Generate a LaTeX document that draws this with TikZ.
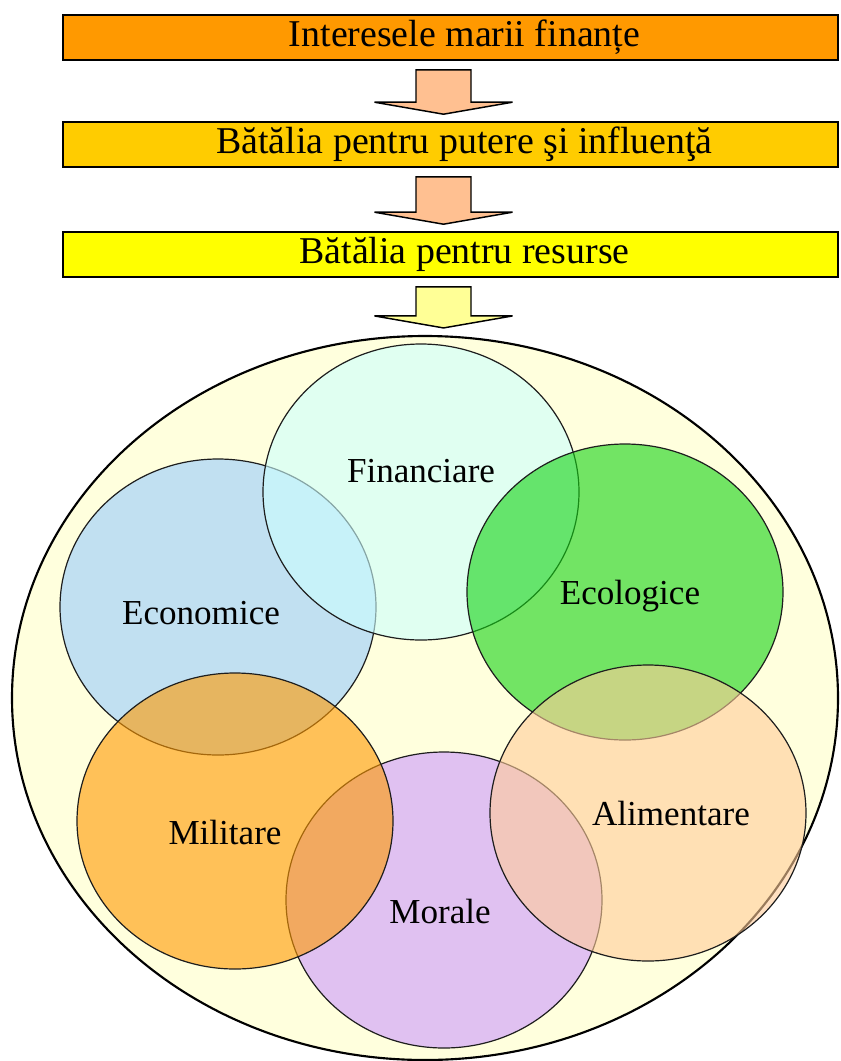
\documentclass[tikz,border=0pt]{standalone}
\usepackage{fontspec}
\setmainfont{Liberation Serif}
\usetikzlibrary{calc,shapes.geometric}

\newcommand{\bartext}{\fontsize{28.4}{34}\selectfont}
\newcommand{\areatext}{\fontsize{26.3}{32}\selectfont}

% block arrow from the bottom of one node down to the top of the next
\newcommand{\blockdown}[3]{%
  \coordinate (#1-#2) at (#1.south |- #2.north);
  \draw [blockarrow, fill=#3] ($(#1.south)+(-34.5,9)$) -- ($(#1.south)+(20.5,9)$) -- ($(#1-#2)+(20.5,-19)$) -- ($(#1-#2)+(62,-19)$) -- ($(#1-#2)+(-7,-7)$) -- ($(#1-#2)+(-76,-19)$) -- ($(#1-#2)+(-34.5,-19)$) -- cycle ;}

\tikzset{every picture/.style={line width=0.75pt}}
\tikzset{
  bar/.style={draw, line width=1.2, minimum width=581.25pt, minimum height=33.75pt, inner sep=0pt,
    label={[font=\bartext, xshift=10.5pt]center:#1}},
  blockarrow/.style={draw, line width=1.1, line join=miter},
  area/.style={ellipse, draw={rgb, 255:red, 30; green, 30; blue, 30 }, line width=0.9, fill opacity=0.6,
    minimum width=237pt, minimum height=222pt, inner sep=0pt},
  areaname/.style={anchor=base, inner sep=0pt, font=\areatext}
}

\begin{document}
\begin{tikzpicture}[x=0.75pt,y=0.75pt,yscale=-1,xscale=1]
\useasboundingbox (0,0) rectangle (840,1061);

% Bars
\node [bar={Interesele marii finanțe}, fill={rgb, 255:red, 255; green, 153; blue, 0 }] (fin) at (450.5,37.5) {};
\node [bar={Bătălia pentru putere şi influenţă}, fill={rgb, 255:red, 255; green, 204; blue, 0 }] (put) at (450.5,144.5) {};
\node [bar={Bătălia pentru resurse}, fill={rgb, 255:red, 255; green, 255; blue, 0 }] (res) at (450.5,254.5) {};

%Shape: Ellipse
\node [ellipse, draw, line width=1.6, inner sep=0pt, minimum width=619.5pt, minimum height=543pt,
  fill={rgb, 255:red, 255; green, 255; blue, 221 }] (tot) at (425,698) {};

% Arrows
\blockdown{fin}{put}{{rgb, 255:red, 255; green, 192; blue, 145 }}
\blockdown{put}{res}{{rgb, 255:red, 255; green, 192; blue, 145 }}
\blockdown{res}{tot}{{rgb, 255:red, 255; green, 255; blue, 150 }}

%Shape: Ellipses
\node [area, fill={rgb, 255:red, 153; green, 204; blue, 255 }] (eco) at (218,607) {};
\node [area, fill={rgb, 255:red, 204; green, 255; blue, 255 }] (fnc) at (421,492) {};
\node [area, fill={rgb, 255:red, 20; green, 210; blue, 20 }] (ecl) at (625,592) {};
\node [area, fill={rgb, 255:red, 204; green, 153; blue, 255 }] (mor) at (444,900) {};
\node [area, fill={rgb, 255:red, 255; green, 153; blue, 0 }] (mil) at (235,821) {};
\node [area, fill={rgb, 255:red, 255; green, 204; blue, 153 }] (ali) at (648,813) {};

% Text Node
\node [areaname] (fnct) at (421,482) {Financiare};
\node [areaname] (ecot) at (201,624) {Economice};
\node [areaname] (eclt) at (630,604) {Ecologice};
\node [areaname] (milt) at (225,844) {Militare};
\node [areaname] (alit) at (671,825) {Alimentare};
\node [areaname] (mort) at (440,923) {Morale};

\end{tikzpicture}
\end{document}
